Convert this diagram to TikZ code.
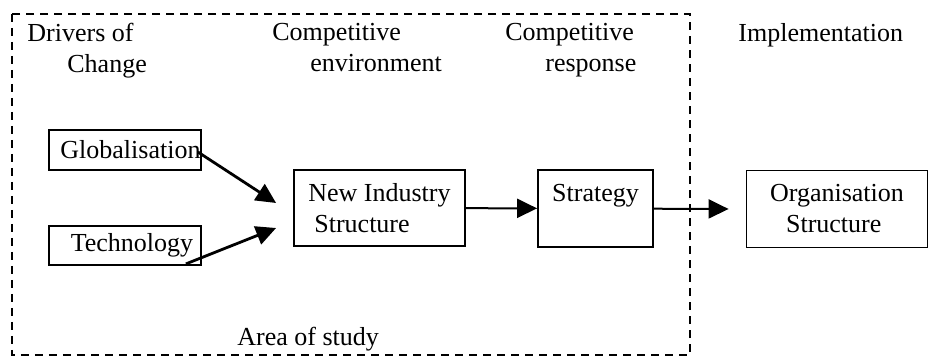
\documentclass[tikz,border=0pt]{standalone}
\usepackage{fontspec}
\setmainfont{Liberation Serif}
\usetikzlibrary{arrows.meta}

\begin{document}
\begin{tikzpicture}[x=0.5pt,y=-0.5pt,
	every node/.style={font=\fontsize{13}{15.5}\selectfont},
	box/.style={draw,line width=0.9pt,inner sep=0pt,align=left},
	head/.style={anchor=north west,inner sep=0pt,align=left},
	flow/.style={-{Triangle[length=10pt,width=9.5pt]},line width=1pt}]
	\useasboundingbox (0,0) rectangle (928,358);
	\draw[line width=1pt,dash pattern=on 4pt off 3pt] (12,14) rectangle (690,355);
	\node[head] (drivers) at (27,23) {Drivers of\\\hspace*{20pt}Change};
	\node[head] (compenv) at (272,23) {Competitive\\\hspace*{19pt}environment};
	\node[head] (compresp) at (505,23) {Competitive\\\hspace*{20pt}response};
	\node[head] (impl) at (738,23) {Implementation};
	\node[head] (area) at (237,327) {Area of study};
	\node[box,minimum width=76pt,minimum height=20pt] (glob) at (125,150) {\hspace*{5.5pt}Globalisation};
	\node[box,minimum width=76pt,minimum height=19.5pt] (tech) at (125,245.5) {\hspace*{7pt}Technology};
	\node[box,minimum width=85.5pt,minimum height=38pt] (nis) at (379.5,208) {New Industry\\\hspace*{3pt}Structure};
	\node[box,minimum width=57.5pt,minimum height=38.5pt] (strat) at (595.5,208.5) {Strategy\\\mbox{}};
	\node[box,minimum width=90.5pt,minimum height=38.5pt] (org) at (837,209) {Organisation\\\hspace*{8pt}Structure};
	\coordinate (nisin1) at ([shift={(-17,-5)}]nis.west);
	\coordinate (nisin2) at ([shift={(-17,20)}]nis.west);
	\coordinate (orgin) at ([shift={(-17,0)}]org.west);
	\path[flow]
	([shift={(-4,2)}]glob.east) edge[line width=1.4pt] (nisin1)
	([shift={(-16,-2)}]tech.south east) edge[line width=1.4pt] (nisin2)
	(nis) edge (strat)
	(strat) edge (orgin);
\end{tikzpicture}
\end{document}
